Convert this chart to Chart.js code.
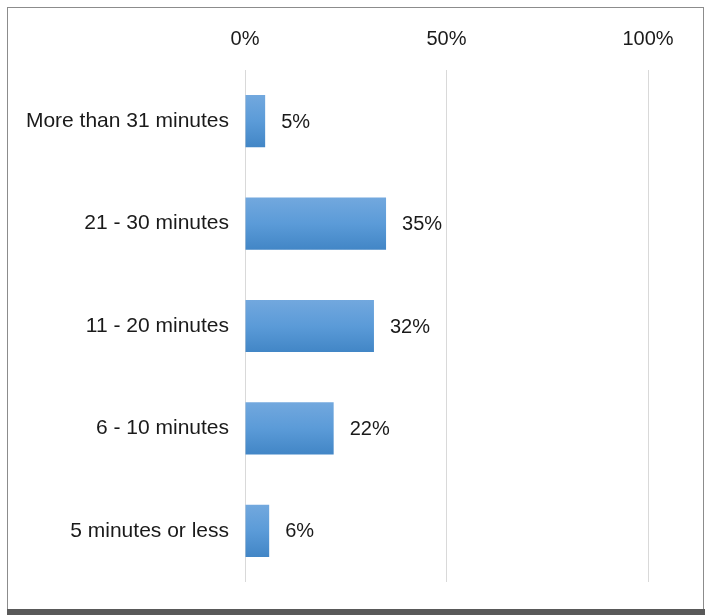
<!DOCTYPE html>
<html>
<head>
<meta charset="utf-8">
<script src="https://cdn.jsdelivr.net/npm/chart.js@4/dist/chart.umd.min.js"></script>
<style>
  html, body { margin: 0; padding: 0; background: #ffffff; }
  #wrap { position: relative; width: 705px; height: 615px; }
</style>
</head>
<body>
<div id="wrap"><canvas id="c" width="705" height="615"></canvas></div>
<script>
const categories = ["More than 31 minutes", "21 - 30 minutes", "11 - 20 minutes", "6 - 10 minutes", "5 minutes or less"];
const values = [5, 35, 32, 22, 6];
const tickValues = [0, 50, 100];

const FONT = "'Liberation Sans', Arial, sans-serif";

const frame = {
  id: 'frame',
  beforeDraw(chart) {
    const ctx = chart.ctx;
    ctx.save();
    ctx.fillStyle = '#ffffff';
    ctx.fillRect(0, 0, chart.width, chart.height);
    ctx.strokeStyle = '#8c8c8c';
    ctx.lineWidth = 1;
    ctx.strokeRect(7.5, 7.5, 696, 604);
    ctx.fillStyle = '#595959';
    ctx.fillRect(7, 609, 698, 6);
    ctx.restore();
  }
};

const valueLabels = {
  id: 'valueLabels',
  afterDatasetsDraw(chart) {
    const ctx = chart.ctx;
    const meta = chart.getDatasetMeta(0);
    ctx.save();
    ctx.font = '20px ' + FONT;
    ctx.fillStyle = '#1a1a1a';
    ctx.textAlign = 'left';
    ctx.textBaseline = 'middle';
    meta.data.forEach((bar, i) => {
      ctx.fillText(values[i] + '%', bar.x + 16, bar.y + 1);
    });
    ctx.restore();
  }
};

function barGradient(context) {
  const chart = context.chart;
  const ys = chart.scales.y;
  if (!ys || context.dataIndex === undefined) return '#5b9bd5';
  const cy = ys.getPixelForValue(context.dataIndex);
  if (!isFinite(cy)) return '#5b9bd5';
  const half = 26;
  const g = chart.ctx.createLinearGradient(0, cy - half, 0, cy + half);
  g.addColorStop(0, '#72a8de');
  g.addColorStop(0.5, '#5b9bd8');
  g.addColorStop(1, '#4286c6');
  return g;
}

new Chart(document.getElementById('c'), {
  type: 'bar',
  data: {
    labels: categories,
    datasets: [{
      data: values,
      backgroundColor: barGradient,
      borderWidth: 0,
      barPercentage: 0.51,
      categoryPercentage: 1.0
    }]
  },
  options: {
    indexAxis: 'y',
    responsive: false,
    animation: false,
    devicePixelRatio: 1,
    layout: { padding: { left: 0, top: 0, right: 57, bottom: 33 } },
    plugins: { legend: { display: false }, tooltip: { enabled: false } },
    scales: {
      x: {
        position: 'top',
        min: 0,
        max: 100,
        afterBuildTicks(scale) { scale.ticks = tickValues.map(v => ({ value: v })); },
        afterFit(scale) { scale.height = 70; },
        grid: { color: '#d9d9d9', lineWidth: 1, drawTicks: false },
        border: { display: false },
        ticks: {
          padding: 19,
          color: '#1a1a1a',
          font: { family: FONT, size: 20 },
          callback: v => v + '%'
        }
      },
      y: {
        afterFit(scale) { scale.width = 245; },
        grid: { display: false, drawTicks: false },
        border: { display: false },
        ticks: {
          padding: 16,
          color: '#1a1a1a',
          font: { family: FONT, size: 21 }
        }
      }
    }
  },
  plugins: [frame, valueLabels]
});
</script>
</body>
</html>
